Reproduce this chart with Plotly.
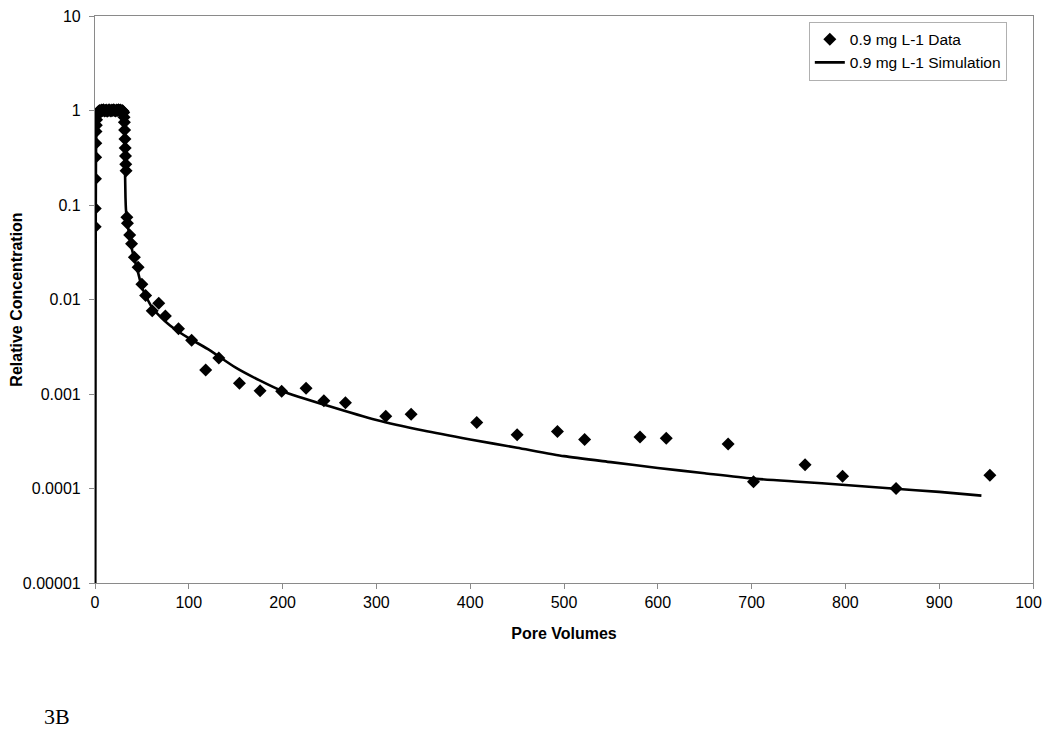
import plotly.graph_objects as go

# measured points (pore volumes, relative concentration)
data_x = [0.2, 0.3, 0.5, 0.7, 0.9, 1.1, 1.4, 1.7, 2.0, 2.4,
          3, 4, 5, 6, 7, 8, 9, 10, 11, 12, 13, 14, 15, 16, 17, 18, 19, 20,
          21, 22, 23, 24, 25, 26, 27, 28, 29, 30,
          30.6, 31, 31.3, 31.6, 31.9, 32.2, 32.5, 32.8, 33.1,
          34, 34.6, 37, 39, 42, 46, 50, 54, 61, 68, 75, 89, 103, 118, 132,
          154, 176, 199, 225, 244, 267, 310, 337, 407, 450, 493, 522, 581,
          609, 675, 702, 757, 797, 854, 954]
data_y = [0.059, 0.092, 0.19, 0.32, 0.45, 0.6, 0.7, 0.8, 0.88, 0.93,
          0.96, 0.98, 1.0, 0.99, 1.01, 1.0, 1.02, 0.99, 1.0, 1.01, 0.98, 1.0, 1.02, 1.0,
          0.99, 1.01, 1.0, 1.02, 1.0, 0.99, 1.01, 1.0, 1.02, 1.0, 1.01, 0.99, 1.0, 0.98,
          0.95, 0.85, 0.75, 0.62, 0.5, 0.4, 0.33, 0.27, 0.23,
          0.074, 0.064, 0.048, 0.039, 0.028, 0.022, 0.0145, 0.011, 0.0076, 0.0091,
          0.0067, 0.0049, 0.0037, 0.0018, 0.0024, 0.0013, 0.00108, 0.00107, 0.00115,
          0.00085, 0.00081, 0.00058, 0.00061, 0.0005, 0.00037, 0.0004, 0.00033,
          0.00035, 0.00034, 0.000295, 0.000118, 0.000178, 0.000135, 0.0001, 0.000138]

# simulated breakthrough curve
sim_x = [0, 0.3, 0.6, 1, 1.5, 2, 3, 5, 10, 20, 30, 31, 31.8, 32.5, 33, 34, 36, 38,
         40, 45, 50, 55, 60, 70, 80, 90, 100, 120, 150, 175, 200, 250, 300, 350,
         400, 450, 500, 550, 600, 650, 700, 750, 800, 850, 900, 945]
sim_y = [1e-7, 1e-5, 0.01, 0.3, 0.7, 0.88, 0.97, 1.0, 1.0, 1.0, 1.0, 0.8, 0.3, 0.12,
         0.09, 0.07, 0.052, 0.04, 0.032, 0.021, 0.0135, 0.0105, 0.0085, 0.0065,
         0.0053, 0.0045, 0.0039, 0.003, 0.0019, 0.0014, 0.00107, 0.00074, 0.00053,
         0.00041, 0.00033, 0.00027, 0.00022, 0.00019, 0.000165, 0.000145, 0.000128,
         0.000118, 0.000109, 0.0001, 0.000092, 0.000084]

y_ticks = [0.00001, 0.0001, 0.001, 0.01, 0.1, 1, 10]
y_labels = ['0.00001', '0.0001', '0.001', '0.01', '0.1', '1', '10']

font = 'Liberation Sans, Arial, sans-serif'
axis_grey = '#8a8a8a'

fig = go.Figure()
fig.add_trace(go.Scatter(x=data_x, y=data_y, mode='markers',
                         name='0.9 mg L-1 Data',
                         marker=dict(symbol='diamond', size=10, color='black')))
fig.add_trace(go.Scatter(x=sim_x, y=sim_y, mode='lines',
                         name='0.9 mg L-1 Simulation',
                         line=dict(color='black', width=2.6, shape='spline', smoothing=0.6)))

fig.update_layout(
    width=1050, height=749,
    margin=dict(l=87, r=25, t=8, b=174),
    plot_bgcolor='white', paper_bgcolor='white',
    font=dict(family=font, size=16, color='black'),
    legend=dict(x=0.761, y=0.99, xanchor='left', yanchor='top',
                bgcolor='white', bordercolor='#b0b0b0', borderwidth=1,
                font=dict(family=font, size=15.5), tracegroupgap=0, itemwidth=30),
    xaxis=dict(range=[0, 1000], dtick=100, showgrid=False, zeroline=False,
               showline=True, linecolor=axis_grey, linewidth=1.2, mirror=True,
               ticks='outside', ticklen=5, tickcolor=axis_grey,
               tickfont=dict(family=font, size=16),
               automargin=False, ticklabeloverflow='allow',
               title=dict(text='<b>Pore Volumes</b>', standoff=17,
                          font=dict(family=font, size=16))),
    yaxis=dict(type='log', range=[-5, 1], tickvals=y_ticks, ticktext=y_labels,
               showgrid=False, zeroline=False,
               showline=True, linecolor=axis_grey, linewidth=1.2, mirror=True,
               ticks='outside', ticklen=5, tickcolor=axis_grey,
               tickfont=dict(family=font, size=16),
               ticklabelstandoff=5,
               automargin=False, ticklabeloverflow='allow',
               title=dict(text='<b>Relative Concentration</b>', standoff=9,
                          font=dict(family=font, size=16))),
)

fig.add_annotation(text='3B', xref='paper', yref='paper',
                   x=-0.0565, y=-0.2346, xanchor='left', yanchor='middle',
                   showarrow=False,
                   font=dict(family='Liberation Serif, Times New Roman, serif', size=22))

fig.write_html('out.html')
